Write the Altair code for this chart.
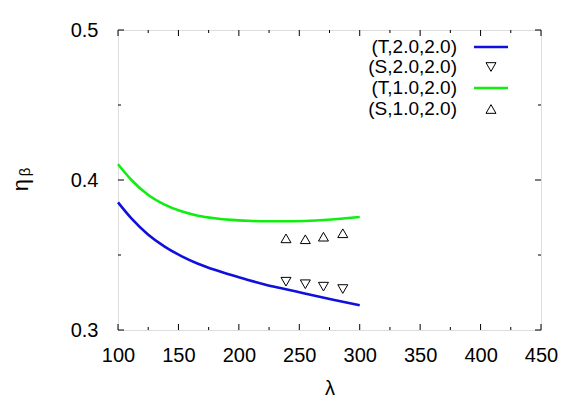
import altair as alt
import pandas as pd

# ---- data ----
lam_T22 = [100, 111.1, 124.8, 138.6, 152.4, 166.2, 180, 193.8, 207.6, 221.4, 235.2, 254.5, 277, 300]
eta_T22 = [0.3851, 0.3744, 0.3637, 0.3556, 0.3493, 0.3442, 0.3401, 0.3366, 0.3334, 0.3304,
           0.3278, 0.3244, 0.3204, 0.3165]

lam_T12 = [100, 111.1, 124.8, 138.6, 152.4, 166.2, 180, 193.8, 207.6, 221.4, 235.2, 254.5, 277, 300]
eta_T12 = [0.4105, 0.4000, 0.3902, 0.3836, 0.3791, 0.3762, 0.3745, 0.3734, 0.3728, 0.3725,
           0.3725, 0.3727, 0.3737, 0.3753]

lam_S22 = [239, 255, 270, 286]
eta_S22 = [0.3322, 0.3305, 0.3289, 0.3273]

lam_S12 = [239, 255, 270, 286]
eta_S12 = [0.3611, 0.3605, 0.3622, 0.3645]

legend_labels = ["(T,2.0,2.0)", "(S,2.0,2.0)", "(T,1.0,2.0)", "(S,1.0,2.0)"]

x_major = [100, 150, 200, 250, 300, 350, 400, 450]
x_minor = [125, 175, 225, 275, 325, 375, 425]
y_major = [0.3, 0.4, 0.5]
y_minor = [0.35, 0.45]

BLUE = "#1010dc"
GREEN = "#10ee10"
FONT = "Liberation Sans"
W, H = 423, 300

xs = alt.Scale(domain=[100, 450], nice=False, zero=False)
ys = alt.Scale(domain=[0.3, 0.5], nice=False, zero=False)

X = lambda f: alt.X(f, scale=xs, axis=alt.Axis(
    values=x_major, title="λ", grid=False, ticks=False, tickSize=0, domain=False,
    labelFont=FONT, labelFontSize=20, labelPadding=15, labelColor="black",
    titleFont=FONT, titleFontSize=20, titleFontWeight="normal", titlePadding=13,
    titleColor="black", labelFlush=False))
Y = lambda f: alt.Y(f, scale=ys, axis=alt.Axis(
    values=y_major, format=".1f", title=None, grid=False, ticks=False, tickSize=0,
    domain=False, labelFont=FONT, labelFontSize=20, labelPadding=20,
    labelColor="black", labelFlush=False))

df_T22 = pd.DataFrame({"lam": lam_T22, "eta": eta_T22})
df_T12 = pd.DataFrame({"lam": lam_T12, "eta": eta_T12})
df_S22 = pd.DataFrame({"lam": lam_S22, "eta": eta_S22})
df_S12 = pd.DataFrame({"lam": lam_S12, "eta": eta_S12})

line22 = alt.Chart(df_T22).mark_line(color=BLUE, strokeWidth=2.6, interpolate="monotone").encode(
    x=X("lam:Q"), y=Y("eta:Q"))
line12 = alt.Chart(df_T12).mark_line(color=GREEN, strokeWidth=2.6, interpolate="monotone").encode(
    x=X("lam:Q"), y=Y("eta:Q"))
pts22 = alt.Chart(df_S22).mark_point(shape="triangle-down", size=100, filled=False,
                                     color="black", strokeWidth=1, opacity=1).encode(
    x=X("lam:Q"), y=Y("eta:Q"))
pts12 = alt.Chart(df_S12).mark_point(shape="triangle-up", size=100, filled=False,
                                     color="black", strokeWidth=1, opacity=1).encode(
    x=X("lam:Q"), y=Y("eta:Q"))

# inward ticks on all four sides
xmaj = pd.DataFrame({"v": x_major})
xmin = pd.DataFrame({"v": x_minor})
ymaj = pd.DataFrame({"v": y_major})
ymin = pd.DataFrame({"v": y_minor})
tick_layers = []
for d, L in [(xmaj, 6), (xmin, 3)]:
    tick_layers.append(alt.Chart(d).mark_rule(color="black", strokeWidth=1).encode(
        x=X("v:Q"), y=alt.value(H), y2=alt.value(H - L)))
    tick_layers.append(alt.Chart(d).mark_rule(color="black", strokeWidth=1).encode(
        x=X("v:Q"), y=alt.value(0), y2=alt.value(L)))
for d, L in [(ymaj, 6), (ymin, 3)]:
    tick_layers.append(alt.Chart(d).mark_rule(color="black", strokeWidth=1).encode(
        y=Y("v:Q"), x=alt.value(0), x2=alt.value(L)))
    tick_layers.append(alt.Chart(d).mark_rule(color="black", strokeWidth=1).encode(
        y=Y("v:Q"), x=alt.value(W), x2=alt.value(W - L)))

# y-axis title: eta with subscript beta
eta_t = alt.Chart(pd.DataFrame({"t": ["η"]})).mark_text(
    font=FONT, fontSize=22, angle=270, align="center", baseline="middle", color="black"
).encode(text="t:N", x=alt.value(-97), y=alt.value(155))
beta_t = alt.Chart(pd.DataFrame({"t": ["β"]})).mark_text(
    font=FONT, fontSize=15, angle=270, align="center", baseline="middle", color="black"
).encode(text="t:N", x=alt.value(-93), y=alt.value(142))

# legend (top-right, inside the plot)
leg_layers = []
row_y = [17, 37, 58, 79]
for i, lab in enumerate(legend_labels):
    leg_layers.append(alt.Chart(pd.DataFrame({"t": [lab]})).mark_text(
        font=FONT, fontSize=19, align="right", baseline="middle", color="black"
    ).encode(text="t:N", x=alt.value(339), y=alt.value(row_y[i])))
leg_layers.append(alt.Chart(pd.DataFrame({"t": [0]})).mark_rule(color=BLUE, strokeWidth=2.6).encode(
    x=alt.value(356), x2=alt.value(390), y=alt.value(row_y[0])))
leg_layers.append(alt.Chart(pd.DataFrame({"t": [0]})).mark_rule(color=GREEN, strokeWidth=2.6).encode(
    x=alt.value(356), x2=alt.value(390), y=alt.value(row_y[2])))
leg_layers.append(alt.Chart(pd.DataFrame({"t": [0]})).mark_point(
    shape="triangle-down", size=100, filled=False, color="black", strokeWidth=1, opacity=1
).encode(x=alt.value(373), y=alt.value(row_y[1])))
leg_layers.append(alt.Chart(pd.DataFrame({"t": [0]})).mark_point(
    shape="triangle-up", size=100, filled=False, color="black", strokeWidth=1, opacity=1
).encode(x=alt.value(373), y=alt.value(row_y[3])))

chart = alt.layer(
    line22, line12, pts22, pts12, *tick_layers, eta_t, beta_t, *leg_layers
).properties(
    width=W, height=H,
    autosize=alt.AutoSizeParams(type="none"),
    padding={"left": 110, "top": 22, "right": 30, "bottom": 69},
).configure_view(stroke="black", strokeWidth=1).configure(background="white")

chart.save("out.html", embed_options={"renderer": "svg", "actions": False})
